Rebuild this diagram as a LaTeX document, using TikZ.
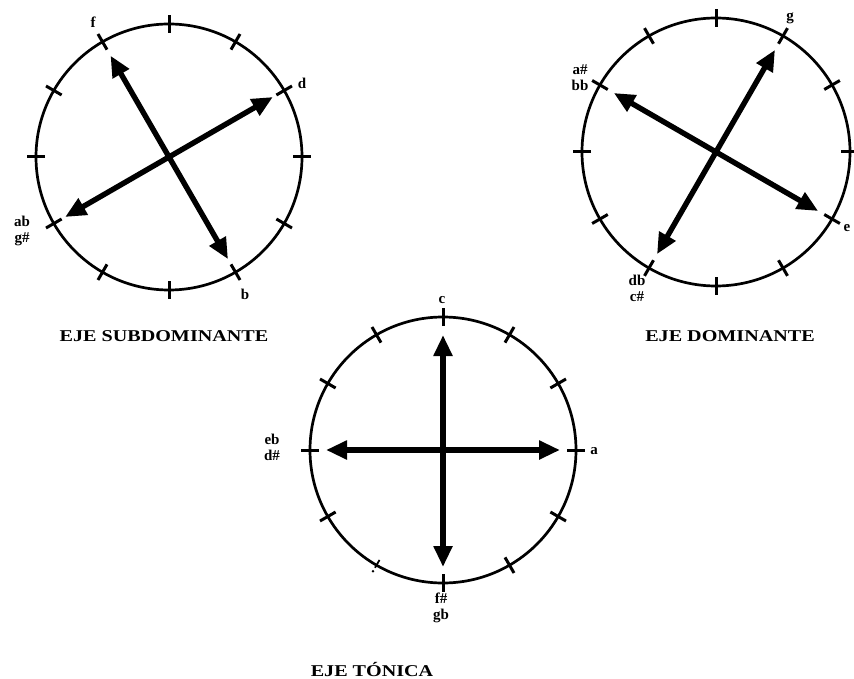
\documentclass[tikz,border=0pt]{standalone}
\usepackage{fontspec}
\setmainfont{Liberation Serif}
\usetikzlibrary{arrows.meta}
\begin{document}
\begin{tikzpicture}[x=1pt,y=1pt,
  ring/.style={line width=2.7pt},
  tickmark/.style={line width=3pt},
  faint/.style={line width=1.8pt},
  axis/.style={line width=5.4pt,{Triangle[length=21pt,width=18pt]}-{Triangle[length=21pt,width=18pt]}},
  note/.style={font=\bfseries\fontsize{15}{16}\selectfont, inner sep=0pt, align=center},
  title/.style={font=\bfseries\fontsize{16.5}{18}\selectfont, inner sep=0pt}]
\useasboundingbox (0,0) rectangle (854,-679);

% ---------- left dial: subdominant ----------
\begin{scope}[shift={(169pt,-157pt)}]
  \draw[ring] (0,0) circle (133);
  \foreach \a in {0,30,...,330} \draw[tickmark] (\a:124) -- (\a:142);
  \coordinate (Lf) at (120:117);
  \coordinate (Lb) at (300:118);
  \coordinate (Ld) at (30:120);
  \coordinate (La) at (210:120);
\end{scope}
\draw[axis] (Lf) -- (Lb);
\draw[axis] (Ld) -- (La);
\node[note] (nf) at (93,-22) {f};
\node[note] (nd) at (302,-83) {d};
\node[note] (nb) at (245,-294) {b};
\node[note] (nab) at (22,-231) {ab\\g\#};
\node[title] (t1) at (164,-336) {\scalebox{1.22}[1]{EJE SUBDOMINANTE}};

% ---------- right dial: dominant ----------
\begin{scope}[shift={(716pt,-152pt)}]
  \draw[ring] (0,0) circle (134);
  \foreach \a in {0,30,...,330} \draw[tickmark] (\a:125) -- (\a:143);
  \coordinate (Rg) at (60:118);
  \coordinate (Rd) at (240:118);
  \coordinate (Ra) at (150:118);
  \coordinate (Re) at (330:118);
\end{scope}
\draw[axis] (Rg) -- (Rd);
\draw[axis] (Ra) -- (Re);
\node[note] (ng) at (790,-18) {g};
\node[note] (nas) at (580,-78) {a\#\\bb};
\node[note] (ne) at (847,-228) {e};
\node[note] (ndb) at (637,-288) {db\\c\#};
\node[title] (t2) at (730,-336) {\scalebox{1.22}[1]{EJE DOMINANTE}};

% ---------- bottom dial: tonic ----------
\begin{scope}[shift={(443pt,-450pt)}]
  \draw[ring] (0,0) circle (133);
  \foreach \a in {0,30,60,90,120,150,180,210,270,300,330} \draw[tickmark] (\a:124) -- (\a:142);
  \draw[faint] (240:127) -- (240:136);
  \fill (240:140) circle (1.4);
  \coordinate (Bc) at (90:115);
  \coordinate (Bf) at (270:117);
  \coordinate (Be) at (180:117);
  \coordinate (Ba) at (0:117);
\end{scope}
\draw[axis] (Bc) -- (Bf);
\draw[axis] (Be) -- (Ba);
\node[note] (nc) at (442,-300) {c};
\node[note] (na) at (594,-451) {a};
\node[note] (neb) at (272,-447) {eb\\d\#};
\node[note] (nfs) at (441,-608) {f\#\\gb};
\node[title] (t3) at (372,-669) {\scalebox{1.22}[1]{EJE TÓNICA}};
\end{tikzpicture}
\end{document}
